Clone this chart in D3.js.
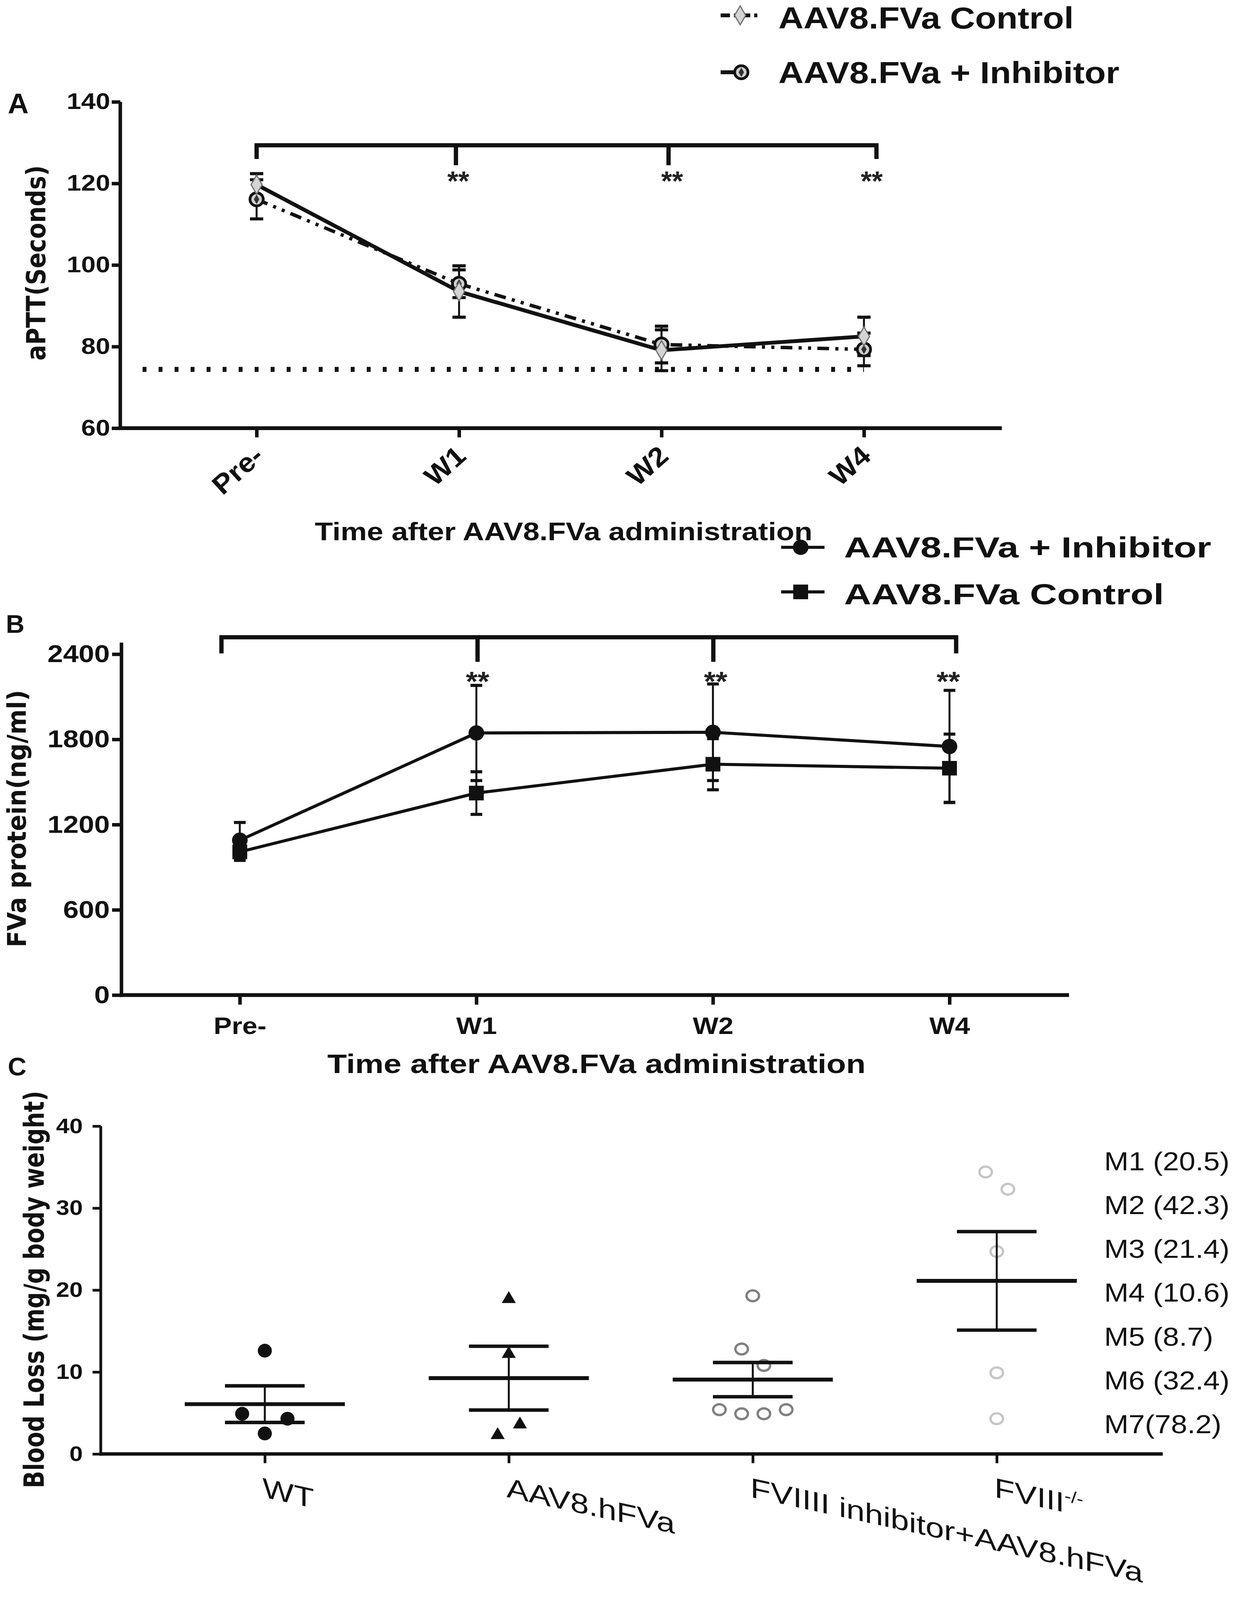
<!DOCTYPE html>
<html>
<head>
<meta charset="utf-8">
<script src="https://cdn.jsdelivr.net/npm/d3@7"></script>
<style>
  html, body { margin: 0; padding: 0; background: #fff; width: 100%; height: 100%; overflow: hidden; }
  svg { display: block; width: 100vw; height: 100vh; }
</style>
</head>
<body>
<svg id="fig"></svg>
<script>
'use strict';

/* ── data ────────────────────────────────── */
const timePoints = ['Pre-', 'W1', 'W2', 'W4'];
const sigMarks   = ['', '**', '**', '**'];

// A: aPTT (seconds)
const aptControl    = [119.7, 93.5, 79.1, 82.5];
const aptControlErr = [2.7, 6.3, 5.0, 4.7];
const aptInhib      = [116.1, 95.4, 80.5, 79.3];
const aptInhibErr   = [4.8, 3.4, 4.5, 4.0];
const aptNormal     = 74.4;
const aptTicks      = [60, 80, 100, 120, 140];

// B: FVa protein (ng/ml)
const fvaInhib      = [1090, 1845, 1850, 1750];
const fvaInhibErr   = [125, 335, 340, 395];
const fvaControl    = [1008, 1422, 1625, 1597];
const fvaControlErr = [60, 150, 180, 240];
const fvaTicks      = [0, 600, 1200, 1800, 2400];

// C: blood loss (mg/g body weight)
const lossGroups = ['WT', 'AAV8.hFVa', 'FVIIII inhibitor+AAV8.hFVa', 'FVIII-/-'];
const lossWT     = [12.6, 4.9, 4.3, 2.5];
const lossAAV    = [18.9, 12.2, 2.3, 3.6];
const lossInhib  = [19.3, 12.8, 10.8, 5.4, 4.9, 4.9, 5.4];
const lossKO     = [34.4, 32.3, 24.7, 9.9, 4.3];
const lossTicks  = [0, 10, 20, 30, 40];
const mouseLabels = ['M1 (20.5)', 'M2 (42.3)', 'M3 (21.4)', 'M4 (10.6)', 'M5 (8.7)', 'M6 (32.4)', 'M7(78.2)'];

/* ── setup ───────────────────────────────── */
const W = 3162, H = 4163;
const SANS = "'Liberation Sans', Arial, Helvetica, sans-serif";
const WIDE = "'DejaVu Sans', Verdana, sans-serif";
const INK  = '#111';

// fit the whole figure into whatever the window really is
const svg = d3.select('#fig').attr('viewBox', `0 0 ${W} ${H}`).attr('preserveAspectRatio', 'none');
svg.append('rect').attr('width', W).attr('height', H).attr('fill', '#fff');

// text placed at (x,y), rotated or skewed, then stretched along its baseline
function label(parent, str, o) {
  let tf = `translate(${o.x},${o.y})`;
  if (o.rotate) tf += ` rotate(${o.rotate})`;
  if (o.skew) tf += ` skewY(${o.skew})`;
  const g = parent.append('g').attr('transform', tf);
  const t = g.append('text')
    .attr('font-family', o.family || SANS)
    .attr('font-size', o.size)
    .attr('font-weight', o.weight || 'bold')
    .attr('text-anchor', o.anchor || 'start')
    .attr('fill', o.fill || INK)
    .text(str);
  if (o.sup) t.append('tspan').attr('font-size', o.size * 0.6).attr('dy', -o.size * 0.4).text(o.sup);
  const nat = t.node().getComputedTextLength();
  const k = o.width ? o.width / nat : (o.sx || 1);
  t.attr('transform', `scale(${k},1)`);
  return t;
}

function stretchTicks(ax, k) {
  ax.selectAll('.tick text').each(function () {
    const t = d3.select(this);
    const x = +t.attr('x') || 0;
    t.attr('x', x / k).attr('transform', `scale(${k},1)`);
  });
}

function axes(g, x, y, ticks, o) {
  const yAx = g.append('g').attr('transform', `translate(${o.x0},0)`)
    .call(d3.axisLeft(y).tickValues(ticks).tickFormat(d3.format('d'))
      .tickSize(o.tick).tickPadding(o.pad).tickSizeOuter(0));
  yAx.select('.domain').remove();
  yAx.selectAll('.tick line').attr('stroke', INK).attr('stroke-width', o.ySw);
  yAx.selectAll('.tick text').attr('font-family', SANS).attr('font-size', o.fs)
    .attr('font-weight', 'bold').attr('fill', INK);
  stretchTicks(yAx, o.k);

  const xAx = g.append('g').attr('transform', `translate(0,${y.range()[0]})`)
    .call(d3.axisBottom(x).tickSize(o.xTick).tickSizeOuter(0).tickPadding(o.xPad || 0)
      .tickFormat(o.xLabels ? null : ''));
  xAx.select('.domain').remove();
  xAx.selectAll('.tick line').attr('stroke', INK).attr('stroke-width', o.ySw);
  if (o.xLabels) {
    xAx.selectAll('.tick text').attr('font-family', SANS).attr('font-size', o.xFs)
      .attr('font-weight', 'bold').attr('fill', INK);
    stretchTicks(xAx, o.k);
  }

  g.append('line').attr('x1', o.x0).attr('x2', o.x0)
    .attr('y1', o.yTop).attr('y2', y.range()[0] + o.xSw / 2)
    .attr('stroke', INK).attr('stroke-width', o.ySw);
  g.append('line').attr('x1', o.x0 - o.ySw / 2).attr('x2', o.xEnd)
    .attr('y1', y.range()[0]).attr('y2', y.range()[0])
    .attr('stroke', INK).attr('stroke-width', o.xSw);
}

function errorBars(g, x, y, vals, errs, o) {
  const d = timePoints.map((t, i) => ({ t, v: vals[i], e: errs[i] }));
  const eg = g.append('g').attr('stroke', INK);
  eg.selectAll('line.v').data(d).join('line').attr('class', 'v')
    .attr('x1', d => x(d.t)).attr('x2', d => x(d.t))
    .attr('y1', d => y(d.v - d.e)).attr('y2', d => y(d.v + d.e))
    .attr('stroke-width', o.w);
  const caps = d.flatMap(d => [d.v - d.e, d.v + d.e].map(v => ({ t: d.t, v })));
  eg.selectAll('line.c').data(caps).join('line').attr('class', 'c')
    .attr('x1', d => x(d.t) - o.cap / 2).attr('x2', d => x(d.t) + o.cap / 2)
    .attr('y1', d => y(d.v)).attr('y2', d => y(d.v))
    .attr('stroke-width', o.capW);
}

function bracket(g, x, y, o) {
  const xs = timePoints.map((t, i) => x(t) + o.offs[i]);
  let p = `M${xs[0]},${y(o.endDrop)}V${y(o.top)}H${xs[3]}V${y(o.endDrop)}`;
  [1, 2].forEach(i => { p += `M${xs[i]},${y(o.top)}V${y(o.midDrop)}`; });
  g.append('path').attr('d', p).attr('fill', 'none').attr('stroke', INK)
    .attr('stroke-width', o.sw).attr('stroke-linejoin', 'miter');
  sigMarks.forEach((s, i) => {
    if (!s) return;
    label(g, s, { x: xs[i] + o.starDx[i], y: y(o.star) + 0.573 * o.starSize, size: o.starSize,
      anchor: 'middle', width: o.starW, fill: '#222' });
  });
}

/* ── panel A ─────────────────────────────── */
const gA = svg.append('g');
const xA = d3.scalePoint().domain(timePoints).range([657, 2212]);
const yA = d3.scaleLinear().domain([60, 140]).range([1114, 265]);

axes(gA, xA, yA, aptTicks, { x0: 308, yTop: 265, xEnd: 2565, tick: 22, pad: 4, fs: 58, k: 1.15,
  ySw: 9, xSw: 10, xTick: 24 });

timePoints.forEach(t => {
  label(gA, t, { x: xA(t) + 22, y: 1192, size: 70, anchor: 'end', rotate: -42, sx: 1.08 });
});
label(gA, 'Time after AAV8.FVa administration', { x: 806, y: 1406, size: 66, width: 1274 });
label(gA, 'aPTT(Seconds)', { x: 116, y: 684, size: 68, family: WIDE, anchor: 'middle', rotate: -90, width: 508 });
label(gA, 'A', { x: 20, y: 295, size: 74 });

// normal-plasma reference
gA.append('line')
  .attr('x1', 365).attr('x2', xA('W4'))
  .attr('y1', yA(aptNormal)).attr('y2', yA(aptNormal))
  .attr('stroke', INK).attr('stroke-width', 13).attr('stroke-dasharray', '10,31');

const lineA = (vals) => d3.line().x((d, i) => xA(timePoints[i])).y(d => yA(d))(vals);
gA.append('path').attr('d', lineA(aptInhib)).attr('fill', 'none').attr('stroke', INK)
  .attr('stroke-width', 9).attr('stroke-dasharray', '30,16,8,16,8,16');
gA.append('path').attr('d', lineA(aptControl)).attr('fill', 'none').attr('stroke', INK)
  .attr('stroke-width', 10).attr('stroke-linejoin', 'round');

errorBars(gA, xA, yA, aptControl, aptControlErr, { w: 5, cap: 34, capW: 8 });
errorBars(gA, xA, yA, aptInhib, aptInhibErr, { w: 5, cap: 34, capW: 8 });

const diamond = d3.symbol(d3.symbolDiamond, 700)();
const smallDiamond = d3.symbol(d3.symbolDiamond, 170)();
function inhibMarker(g, x, y) {
  g.append('circle').attr('cx', x).attr('cy', y).attr('r', 17)
    .attr('fill', '#cfcfcf').attr('stroke', INK).attr('stroke-width', 7);
  g.append('path').attr('d', smallDiamond).attr('transform', `translate(${x},${y})`).attr('fill', '#333');
}
function controlMarker(g, x, y) {
  g.append('path').attr('d', diamond).attr('transform', `translate(${x},${y})`)
    .attr('fill', '#d4d4d4').attr('stroke', '#6f6f6f').attr('stroke-width', 3);
}
aptInhib.forEach((v, i) => inhibMarker(gA, xA(timePoints[i]), yA(v)));
aptControl.forEach((v, i) => controlMarker(gA, xA(timePoints[i]), yA(v)));

bracket(gA, xA, yA, { top: 129.35, endDrop: 126.0, midDrop: 124.45, offs: [0, -8, 18, 32], sw: 11,
  star: 122.1, starSize: 72, starW: 56, starDx: [0, 6, 9, -12] });

// legend A
gA.append('line').attr('x1', 1845).attr('x2', 1946).attr('y1', 40).attr('y2', 40)
  .attr('stroke', INK).attr('stroke-width', 10).attr('stroke-dasharray', '24,10,8,10');
controlMarker(gA, 1895, 40);
label(gA, 'AAV8.FVa Control', { x: 1993, y: 74, size: 80, width: 756 });
gA.append('line').attr('x1', 1845).attr('x2', 1880).attr('y1', 188).attr('y2', 188)
  .attr('stroke', INK).attr('stroke-width', 10);
inhibMarker(gA, 1898, 188);
label(gA, 'AAV8.FVa + Inhibitor', { x: 1993, y: 216, size: 80, width: 873 });

/* ── panel B ─────────────────────────────── */
const gB = svg.append('g');
const xB = d3.scalePoint().domain(timePoints).range([614, 2431]);
const yB = d3.scaleLinear().domain([0, 2400]).range([2589, 1702]);

axes(gB, xB, yB, fvaTicks, { x0: 311, yTop: 1672, xEnd: 2737, tick: 24, pad: 6, fs: 64, k: 1.12,
  ySw: 9, xSw: 10, xTick: 25, xPad: 32, xLabels: true, xFs: 62 });
label(gB, 'Time after AAV8.FVa administration', { x: 838, y: 2792, size: 70, width: 1378 });
label(gB, 'FVa protein(ng/ml)', { x: 66, y: 2130, size: 66, family: WIDE, anchor: 'middle', rotate: -90, width: 670 });
label(gB, 'B', { x: 15, y: 1646, size: 66 });

const lineB = (vals) => d3.line().x((d, i) => xB(timePoints[i])).y(d => yB(d))(vals);
[fvaInhib, fvaControl].forEach(vals => {
  gB.append('path').attr('d', lineB(vals)).attr('fill', 'none').attr('stroke', INK)
    .attr('stroke-width', 8).attr('stroke-linejoin', 'round');
});
errorBars(gB, xB, yB, fvaInhib, fvaInhibErr, { w: 5, cap: 30, capW: 8 });
errorBars(gB, xB, yB, fvaControl, fvaControlErr, { w: 5, cap: 30, capW: 8 });

const squareB = d3.symbol(d3.symbolSquare, 1444)();
fvaControl.forEach((v, i) => gB.append('path').attr('d', squareB)
  .attr('transform', `translate(${xB(timePoints[i])},${yB(v)})`).attr('fill', INK));
fvaInhib.forEach((v, i) => gB.append('circle').attr('cx', xB(timePoints[i])).attr('cy', yB(v))
  .attr('r', 20).attr('fill', INK));

bracket(gB, xB, yB, { top: 2519, endDrop: 2405, midDrop: 2346, offs: [-47, 3, 1, 17], sw: 11,
  star: 2251, starSize: 72, starW: 60, starDx: [0, 0, 6, -20] });

// legend B
gB.append('line').attr('x1', 2000).attr('x2', 2111).attr('y1', 1424).attr('y2', 1424)
  .attr('stroke', INK).attr('stroke-width', 8);
gB.append('circle').attr('cx', 2050).attr('cy', 1424).attr('r', 20).attr('fill', INK);
label(gB, 'AAV8.FVa + Inhibitor', { x: 2161, y: 1450, size: 76, width: 940 });
gB.append('line').attr('x1', 2000).attr('x2', 2111).attr('y1', 1540).attr('y2', 1540)
  .attr('stroke', INK).attr('stroke-width', 8);
gB.append('path').attr('d', squareB).attr('transform', 'translate(2050,1540)').attr('fill', INK);
label(gB, 'AAV8.FVa Control', { x: 2161, y: 1572, size: 76, width: 819 });

/* ── panel C ─────────────────────────────── */
const gC = svg.append('g');
const xC = d3.scalePoint().domain(lossGroups).range([678, 2552]);
const yC = d3.scaleLinear().domain([0, 40]).range([3783, 2930]);

axes(gC, xC, yC, lossTicks, { x0: 258, yTop: 2930, xEnd: 2977, tick: 21, pad: 25, fs: 55, k: 1.12,
  ySw: 7, xSw: 9, xTick: 24 });
label(gC, 'Blood Loss (mg/g body weight)', { x: 112, y: 3355, size: 72, family: WIDE, anchor: 'middle', rotate: -90, width: 1034 });
label(gC, 'C', { x: 20, y: 2798, size: 66 });

lossGroups.forEach(grp => {
  const ko = grp === 'FVIII-/-';
  label(gC, ko ? 'FVIII' : grp, { x: xC(grp) - 6, y: 3895, size: 72, weight: 'normal', skew: 12.5, sx: 1.18,
    sup: ko ? '-/-' : null });
});

mouseLabels.forEach((m, i) => {
  label(gC, m, { x: 2827, y: 3045 + i * 114, size: 67, weight: 'normal', sx: 1.12 });
});

// beeswarm rows: near-equal values share a row
function swarm(vals, gap) {
  const out = []; let row = [];
  const flush = () => { row.forEach((v, j) => out.push({ v, dx: (j - (row.length - 1) / 2) * gap })); row = []; };
  vals.forEach(v => { if (row.length && Math.abs(v - row[0]) > 2.15) flush(); row.push(v); });
  flush();
  return out;
}

const groupStyle = [
  { vals: lossWT,    gap: 116, kind: 'dot' },
  { vals: lossAAV,   gap: 57,  kind: 'tri' },
  { vals: lossInhib, gap: 57,  kind: 'ring', color: '#808080' },
  { vals: lossKO,    gap: 57,  kind: 'ring', color: '#c6c6c6' },
];
const triC = d3.symbol(d3.symbolTriangle, 560)();

groupStyle.forEach((s, i) => {
  const cx = xC(lossGroups[i]);
  const pts = swarm(s.vals, s.gap);
  const pg = gC.append('g');
  if (s.kind === 'dot') {
    pg.selectAll('circle').data(pts).join('circle')
      .attr('cx', d => cx + d.dx).attr('cy', d => yC(d.v)).attr('r', 18).attr('fill', INK);
  } else if (s.kind === 'tri') {
    pg.selectAll('path').data(pts).join('path').attr('d', triC)
      .attr('transform', d => `translate(${cx + d.dx},${yC(d.v)})`).attr('fill', INK);
  } else {
    pg.selectAll('ellipse').data(pts).join('ellipse')
      .attr('cx', d => cx + d.dx).attr('cy', d => yC(d.v)).attr('rx', 16).attr('ry', 14)
      .attr('fill', 'none').attr('stroke', s.color).attr('stroke-width', 6);
  }

  const mean = d3.mean(s.vals);
  const sem = d3.deviation(s.vals) / Math.sqrt(s.vals.length);
  const lg = gC.append('g').attr('stroke', INK);
  lg.append('line').attr('x1', cx).attr('x2', cx).attr('y1', yC(mean - sem)).attr('y2', yC(mean + sem))
    .attr('stroke-width', 5);
  [mean - sem, mean + sem].forEach(v => lg.append('line')
    .attr('x1', cx - 102).attr('x2', cx + 102).attr('y1', yC(v)).attr('y2', yC(v)).attr('stroke-width', 9));
  lg.append('line').attr('x1', cx - 205).attr('x2', cx + 205).attr('y1', yC(mean)).attr('y2', yC(mean))
    .attr('stroke-width', 10);
});
</script>
</body>
</html>
